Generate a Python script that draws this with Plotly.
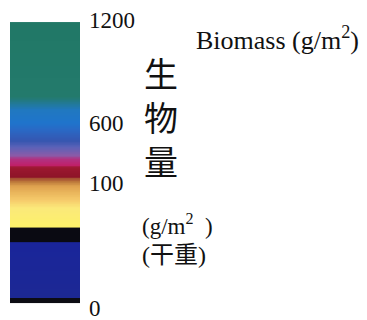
import numpy as np
import plotly.graph_objects as go

# Legend scale (nonlinear): tick values and their relative positions along the bar
tick_values = [0, 100, 600, 1200]
tick_labels = ["0", "100", "600", "1200"]
scale_pos = [0.0, 0.434, 0.642, 1.0]

# Extent of the coloured bar (biomass units)
bar_min, bar_max = 4, 1188

# Colour stops along the bar (biomass value, colour)
stop_values = [4, 8, 8, 52, 53, 64, 65, 80, 86, 97, 108, 140, 150, 228, 248, 300, 330, 400, 450, 540, 600, 676, 752, 1188]
stop_colors = ["#0c0c14", "#0c0c14", "#1c2894", "#1a259a", "#0a0a12", "#0a0a12",
               "#fdf16a", "#fbe97a", "#f6cc6c", "#e0a450", "#bf7c3c", "#a14a30",
               "#8e1428", "#9c1830", "#c0206a", "#b03282", "#8a5aa8", "#5a62b8",
               "#3656b0", "#2a68c4", "#1f74cc", "#2078c0", "#237a6c", "#217866"]


def to_s(v):
    return np.interp(v, tick_values, scale_pos)


s0, s1 = to_s(bar_min), to_s(bar_max)
edges = np.linspace(s0, s1, 400)
centers = (edges[:-1] + edges[1:]) / 2
z = [[c] for c in centers]

colorscale = [[float((to_s(v) - s0) / (s1 - s0)), c] for v, c in zip(stop_values, stop_colors)]

fig = go.Figure(go.Heatmap(
    z=z, x=[0, 1], y=edges, zmin=s0, zmax=s1,
    colorscale=colorscale, showscale=False, hoverinfo="skip"))

W, H = 367, 320


def px(x, y):
    return x / W, 1 - y / H


serif = "Liberation Serif"
cjk = "Liberation Serif, Noto Sans CJK SC"

annotations = []


def add(text, x, y, size, family):
    ax, ay = px(x, y)
    annotations.append(dict(text=text, x=ax, y=ay, xref="paper", yref="paper",
                            xanchor="left", yanchor="middle", showarrow=False,
                            align="left",
                            font=dict(family=family, size=size, color="#111")))


add("Biomass (g/m<sup>2</sup>)", 194, 38, 26, serif)
add("生<br>物<br>量", 142, 116, 34, "Noto Sans CJK SC")
add("(g/m<sup>2</sup>  )", 140, 224, 23, serif)
add("(干重)", 140, 255, 24, cjk)

fig.update_layout(
    width=W, height=H, margin=dict(l=0, r=0, t=0, b=0, pad=0, autoexpand=False),
    paper_bgcolor="white", plot_bgcolor="white",
    xaxis=dict(domain=[10 / W, 80 / W], range=[0, 1], visible=False, fixedrange=True,
               automargin=False),
    yaxis=dict(domain=[0, 1], range=[-12 / 288, 1 + 20 / 288], side="right",
               tickvals=scale_pos, ticktext=tick_labels, showgrid=False, automargin=False,
               zeroline=False, showline=False, ticks="", ticklabelstandoff=8,
               ticklabeloverflow="allow", fixedrange=True,
               tickfont=dict(family=serif, size=23, color="#111")),
    annotations=annotations, showlegend=False,
)

fig.write_html("out.html", config={"displayModeBar": False},
               post_script="document.body.style.margin='0';")
